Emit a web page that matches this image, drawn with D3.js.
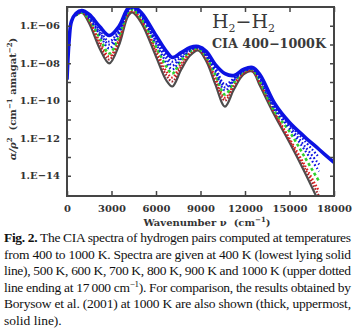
<!DOCTYPE html>
<html>
<head>
<meta charset="utf-8">
<script src="https://cdn.jsdelivr.net/npm/d3@7"></script>
<style>
  body { margin: 0; background: #fff; }
  svg { display: block; }
</style>
</head>
<body>
<svg id="chart" width="355" height="329"></svg>
<script>
// wavenumber knots (cm^-1) for the computed spectra
const nu = [600, 1000, 1500, 2200, 2850, 3500, 4100, 4400, 5000, 6000, 6700, 7100, 7700,
  8300, 8850, 9400, 10000, 10650, 11250, 11900, 12500, 13000, 14000, 15000, 16000, 17000];

// log10(alpha/rho^2), one array per temperature
const t400 = [-5.45, -5.29, -5.88, -7.21, -8.01, -7.05, -5.51, -5.29, -5.83, -7.64, -8.92, -9.24, -8.33,
  -7.59, -7.32, -7.91, -9.13, -10.31, -9.40, -8.60, -8.44, -9.19, -10.79, -12.23, -13.77, -15.43];
const t500 = [-5.45, -5.29, -5.77, -7.00, -7.80, -6.84, -5.40, -5.24, -5.72, -7.43, -8.65, -8.97, -8.17,
  -7.48, -7.27, -7.80, -8.92, -9.99, -9.24, -8.55, -8.39, -9.08, -10.68, -12.12, -13.56, -15.11];
const t600 = [-5.45, -5.29, -5.72, -6.84, -7.64, -6.73, -5.35, -5.19, -5.67, -7.27, -8.44, -8.76, -8.01,
  -7.43, -7.21, -7.75, -8.76, -9.83, -9.13, -8.49, -8.39, -9.03, -10.63, -12.01, -13.40, -14.84];
const t700 = [-5.45, -5.29, -5.67, -6.63, -7.48, -6.57, -5.29, -5.13, -5.61, -7.11, -8.17, -8.55, -7.85,
  -7.37, -7.21, -7.69, -8.60, -9.67, -9.03, -8.44, -8.33, -8.97, -10.57, -11.64, -12.97, -14.31];
const t800 = [-5.45, -5.24, -5.61, -6.47, -7.21, -6.41, -5.24, -5.08, -5.51, -6.95, -7.96, -8.33, -7.75,
  -7.32, -7.16, -7.64, -8.44, -9.45, -8.92, -8.44, -8.33, -8.87, -10.47, -11.48, -12.60, -13.77];
const t900 = [-5.40, -5.24, -5.56, -6.36, -7.00, -6.31, -5.19, -5.03, -5.45, -6.84, -7.75, -8.12, -7.64,
  -7.27, -7.16, -7.59, -8.33, -9.29, -8.87, -8.39, -8.28, -8.76, -10.36, -11.37, -12.39, -13.40];
const t1000 = [-5.40, -5.24, -5.51, -6.25, -6.84, -6.20, -5.13, -5.03, -5.40, -6.73, -7.59, -7.91, -7.53,
  -7.21, -7.11, -7.53, -8.23, -9.13, -8.81, -8.39, -8.28, -8.71, -10.25, -11.27, -12.12, -13.03];

// Borysow et al. (2001), 1000 K
const nuBorysow = [0, 150, 300, 600, 1000, 1500, 2200, 2850, 3500, 4100, 4400, 5000, 6000, 6700, 7100,
  7700, 8300, 8850, 9400, 10000, 10650, 11250, 11900, 12500, 13000, 14000, 15000, 16000, 17000, 18000];
const borysow = [-8.87, -6.73, -5.77, -5.35, -5.19, -5.40, -6.04, -6.52, -6.04, -5.08, -4.97, -5.29, -6.52,
  -7.37, -7.69, -7.43, -7.16, -7.11, -7.37, -8.07, -8.55, -8.65, -8.33, -8.23, -8.60, -10.15, -11.16,
  -11.91, -12.60, -13.29];

const xTicks = [0, 3000, 6000, 9000, 12000, 15000, 18000];
const yDecades = [-14, -13, -12, -11, -10, -9, -8, -7, -6];
const yLabels = ['1.E\u221214', '1.E\u221212', '1.E\u221210', '1.E\u221208', '1.E\u221206'];

// caption lines: [text, style] with style 'b' bold, 'sup' superscript
const captionLines = [
  [['Fig. 2.', 'b'], [' The CIA spectra of hydrogen pairs computed at temperatures']],
  [['from 400 to 1000 K. Spectra are given at 400 K (lowest lying solid']],
  [['line), 500 K, 600 K, 700 K, 800 K, 900 K and 1000 K (upper dotted']],
  [['line ending at 17\u2009000 cm'], ['\u22121', 'sup'], ['). For comparison, the results obtained by']],
  [['Borysow et al. (2001) at 1000 K are also shown (thick, uppermost,']],
  [['solid line).']],
];

const margin = { top: 7, right: 21, bottom: 133, left: 67 };
const width = 355;
const height = 329;
const frameColor = '#454545';
const blue = '#0c12e2';

const svg = d3.select('#chart');

const x = d3.scaleLinear()
  .domain([0, 18000])
  .range([margin.left, width - margin.right]);

const y = d3.scaleLog()
  .domain([Math.pow(10, -15.08), 1e-5])
  .range([height - margin.bottom, margin.top]);

svg.append('clipPath')
  .attr('id', 'plot-clip')
  .append('rect')
  .attr('x', x.range()[0])
  .attr('y', y.range()[1])
  .attr('width', x.range()[1] - x.range()[0])
  .attr('height', y.range()[0] - y.range()[1]);

const series = [
  { x: nu, v: t400, color: '#4d4d4d', w: 2.2, dash: null },
  { x: nu, v: t500, color: '#a3262c', w: 2.2, dash: '1.6 1.6' },
  { x: nu, v: t600, color: '#e01e1e', w: 2.2, dash: '1.6 2' },
  { x: nu, v: t700, color: '#2ed12e', w: 2.6, dash: '3 2.6' },
  { x: nu, v: t800, color: blue, w: 2.2, dash: '1.6 2.4' },
  { x: nu, v: t900, color: blue, w: 2.2, dash: '1.6 2.2' },
  { x: nu, v: t1000, color: blue, w: 2.2, dash: '1.6 2' },
  { x: nuBorysow, v: borysow, color: blue, w: 3.6, dash: null },
];

const line = d3.line()
  .x(d => x(d[0]))
  .y(d => y(Math.pow(10, d[1])))
  .curve(d3.curveCatmullRom.alpha(0.5));

svg.append('g')
  .attr('clip-path', 'url(#plot-clip)')
  .selectAll('path')
  .data(series)
  .join('path')
  .attr('fill', 'none')
  .attr('stroke', d => d.color)
  .attr('stroke-width', d => d.w)
  .attr('stroke-dasharray', d => d.dash)
  .attr('stroke-linejoin', 'round')
  .attr('d', d => line(d.x.map((n, i) => [n, d.v[i]])));

// axes with inward ticks on all four sides
const tickFont = g => g
  .attr('font-family', '"DejaVu Serif", serif')
  .attr('font-weight', 'bold')
  .attr('font-size', 10)
  .attr('fill', '#333');

const tickLines = g => g.selectAll('.tick line')
  .attr('stroke', frameColor)
  .attr('stroke-width', 1.5);

svg.append('g')
  .attr('transform', `translate(0,${y.range()[0]})`)
  .call(d3.axisBottom(x).tickValues(xTicks).tickFormat(d3.format('d'))
    .tickSize(-5).tickPadding(10).tickSizeOuter(0))
  .call(g => g.select('.domain').remove())
  .call(tickLines)
  .call(g => g.selectAll('text').call(tickFont).attr('dy', '0.62em'));

svg.append('g')
  .attr('transform', `translate(0,${y.range()[1]})`)
  .call(d3.axisTop(x).tickValues(xTicks).tickSize(-5).tickFormat('').tickSizeOuter(0))
  .call(g => g.select('.domain').remove())
  .call(tickLines);

const yTickValues = yDecades.map(e => Math.pow(10, e));

svg.append('g')
  .attr('transform', `translate(${x.range()[0]},0)`)
  .call(d3.axisLeft(y).tickValues(yTickValues).tickSize(-4).tickPadding(7).tickSizeOuter(0)
    .tickFormat(d => {
      const e = Math.round(Math.log10(d));
      return e % 2 === 0 ? yLabels[(e + 14) / 2] : '';
    }))
  .call(g => g.select('.domain').remove())
  .call(tickLines)
  .call(g => g.selectAll('text').call(tickFont));

svg.append('g')
  .attr('transform', `translate(${x.range()[1]},0)`)
  .call(d3.axisRight(y).tickValues(yTickValues).tickSize(-4).tickFormat('').tickSizeOuter(0))
  .call(g => g.select('.domain').remove())
  .call(tickLines);

svg.append('rect')
  .attr('x', x.range()[0])
  .attr('y', y.range()[1])
  .attr('width', x.range()[1] - x.range()[0])
  .attr('height', y.range()[0] - y.range()[1])
  .attr('fill', 'none')
  .attr('stroke', frameColor)
  .attr('stroke-width', 2);

// axis titles
const xTitle = svg.append('text')
  .attr('x', 207)
  .attr('y', 226)
  .attr('text-anchor', 'middle')
  .call(tickFont);
xTitle.append('tspan').text('Wavenumber \u03bd\u00a0\u00a0(cm');
xTitle.append('tspan').attr('font-size', 7).attr('dy', -4).text('\u22121');
xTitle.append('tspan').attr('dy', 4).text(')');

const yTitle = svg.append('text')
  .attr('transform', 'translate(16,99) rotate(-90)')
  .attr('text-anchor', 'middle')
  .call(tickFont);
yTitle.append('tspan').attr('font-style', 'italic').text('\u03b1/\u03c1');
yTitle.append('tspan').attr('font-size', 7).attr('dy', -4).text('2');
yTitle.append('tspan').attr('dy', 4).text('\u00a0\u00a0(cm');
yTitle.append('tspan').attr('font-size', 7).attr('dy', -4).text('\u22121');
yTitle.append('tspan').attr('dy', 4).text(' amagat');
yTitle.append('tspan').attr('font-size', 7).attr('dy', -4).text('\u22122');
yTitle.append('tspan').attr('dy', 4).text(')');

// in-plot label
const h2 = svg.append('text')
  .attr('x', 212)
  .attr('y', 28)
  .attr('font-family', '"DejaVu Serif", serif')
  .attr('font-size', 19)
  .attr('fill', '#3a3a3a');
h2.append('tspan').text('H');
h2.append('tspan').attr('font-size', 11).attr('dy', 4).text('2');
h2.append('tspan').attr('dy', -4).text('\u2212H');
h2.append('tspan').attr('font-size', 11).attr('dy', 4).text('2');

svg.append('text')
  .attr('x', 212)
  .attr('y', 48)
  .attr('font-family', '"DejaVu Serif", serif')
  .attr('font-weight', 'bold')
  .attr('font-size', 12)
  .attr('fill', '#3a3a3a')
  .attr('textLength', 114)
  .attr('lengthAdjust', 'spacingAndGlyphs')
  .text('CIA 400\u22121000K');

// caption
const caption = svg.append('g')
  .attr('font-family', '"Liberation Serif", "Times New Roman", serif')
  .attr('font-size', 13.5)
  .attr('fill', '#111');

captionLines.forEach((parts, i) => {
  const t = caption.append('text')
    .attr('x', 4)
    .attr('y', 242 + i * 16.6);
  if (i < captionLines.length - 1) {
    t.attr('textLength', 347).attr('lengthAdjust', 'spacing');
  }
  let prevSup = false;
  parts.forEach(([txt, style]) => {
    const s = t.append('tspan').text(txt);
    if (style === 'b') s.attr('font-weight', 'bold');
    if (style === 'sup') s.attr('font-size', 9).attr('dy', -5);
    else if (prevSup) s.attr('dy', 5);
    prevSup = style === 'sup';
  });
});
</script>
</body>
</html>
